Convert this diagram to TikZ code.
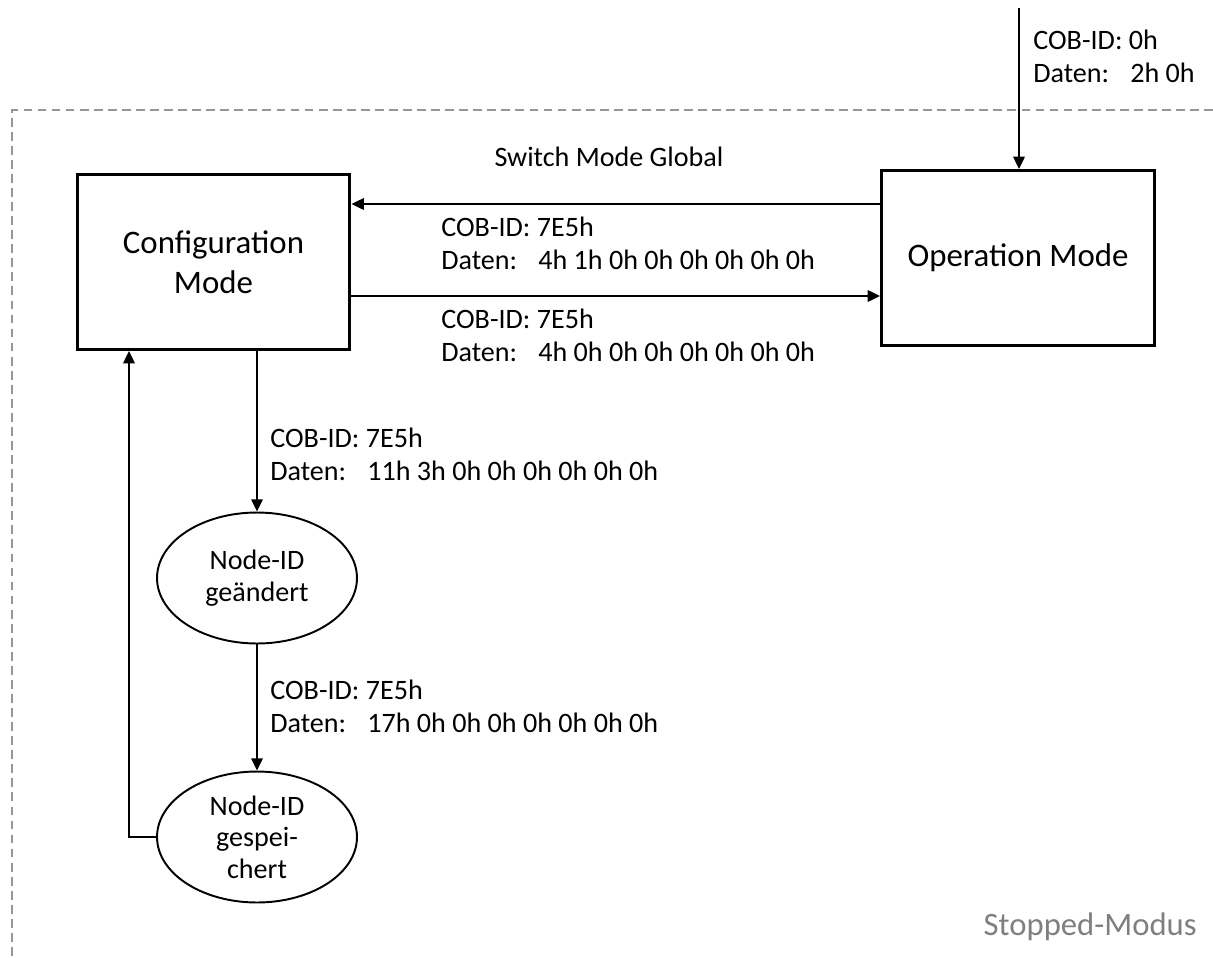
\documentclass[tikz,border=0pt]{standalone}
\usepackage{fontspec}
\setmainfont{Carlito}
\usetikzlibrary{arrows.meta,shapes.geometric}
\definecolor{framegray}{RGB}{150,150,150}
\definecolor{notegray}{RGB}{127,127,127}
\newcommand{\datgap}{\hspace{0.75em}}
\begin{document}
\begin{tikzpicture}[x=0.02cm,y=-0.02cm,
  modebox/.style={draw,line width=1.7pt,minimum width=5.46cm,minimum height=3.5cm,
    inner sep=0pt,align=center,font=\fontsize{18.7}{22.7}\selectfont},
  state/.style={ellipse,draw,line width=1.1pt,minimum width=4cm,minimum height=2.62cm,
    inner sep=0pt,align=center,font=\fontsize{16}{18}\selectfont},
  conn/.style={line width=1.1pt,-{Triangle[length=7pt,width=6.5pt]}},
  msg/.style={anchor=west,inner sep=0pt,align=left,font=\fontsize{16}{18.7}\selectfont},
  stopframe/.style={line width=1.1pt,draw=framegray,dash pattern=on 5pt off 3pt}]

\useasboundingbox (0,0) rectangle (1213,957);

% stopped-mode region
\draw[stopframe] (1213,110) -- (12,110) -- (12,957);
\node[anchor=base east,inner sep=0pt,text=notegray,font=\fontsize{18.6}{21}\selectfont]
  (stopped) at (1197,935) {Stopped-Modus};

% modes
\node[modebox] (cfg) at (213.5,262) {Configuration\\Mode};
\node[modebox] (op) at (1018,258) {Operation Mode};

% node-id states
\node[state] (chg) at (257,578) {Node-ID\\geändert};
\node[state] (sav) at (257,837) {Node-ID\\gespei-\\chert};

% NMT command from outside
\coordinate (src) at (1019,8);
\draw[conn] (src) -- (src |- op.north);
\node[msg] (nmt) at (1033,56.5) {COB-ID: 0h\\Daten:\datgap 2h 0h};

% switch mode global
\node[inner sep=0pt,font=\fontsize{16}{18.7}\selectfont] (smg) at (609,157) {Switch Mode Global};
\coordinate (toCfg) at (0,204);
\coordinate (toOp) at (0,296);
\draw[conn] (toCfg -| op.west) -- (toCfg -| cfg.east);
\draw[conn] (toOp -| cfg.east) -- (toOp -| op.west);
\node[msg] (mA) at (441,243) {COB-ID: 7E5h\\Daten:\datgap 4h 1h 0h 0h 0h 0h 0h 0h};
\node[msg] (mB) at (441,335.5) {COB-ID: 7E5h\\Daten:\datgap 4h 0h 0h 0h 0h 0h 0h 0h};

% configure node-id and store it
\draw[conn] (cfg.south -| chg.north) -- (chg.north);
\node[msg] (mC) at (270,454) {COB-ID: 7E5h\\Daten:\datgap 11h 3h 0h 0h 0h 0h 0h 0h};
\draw[conn] (chg.south) -- (sav.north);
\node[msg] (mD) at (270,706) {COB-ID: 7E5h\\Daten:\datgap 17h 0h 0h 0h 0h 0h 0h 0h};

% back to configuration mode
\coordinate (ret) at (129,0);
\draw[conn] (sav.west) -| (ret |- cfg.south);
\end{tikzpicture}
\end{document}
